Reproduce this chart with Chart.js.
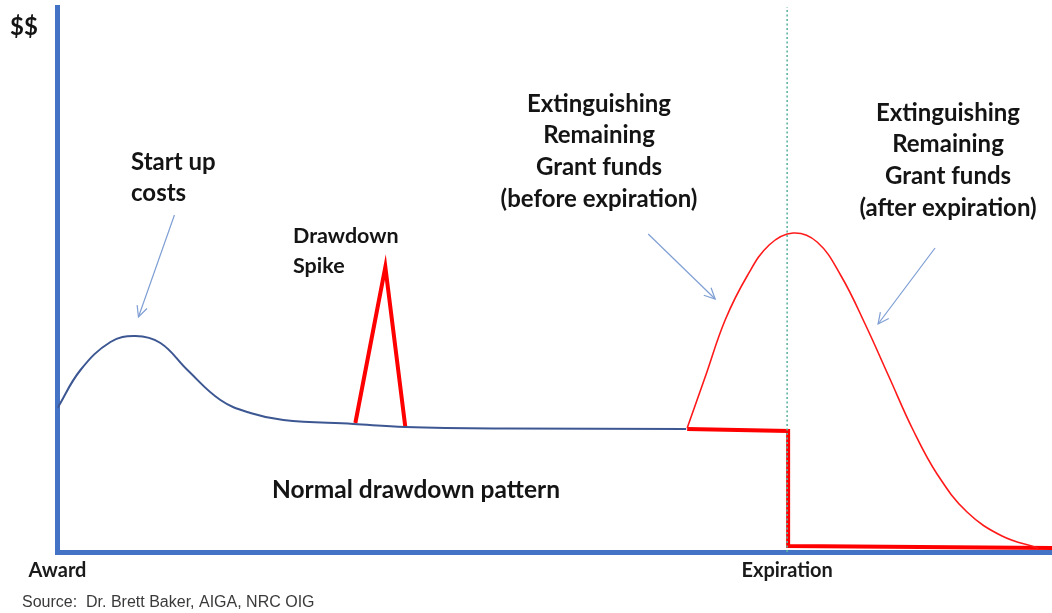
<!DOCTYPE html>
<html>
<head>
<meta charset="utf-8">
<script src="https://cdn.jsdelivr.net/npm/chart.js@4.4.1/dist/chart.umd.min.js"></script>
<style>
html,body{margin:0;padding:0;background:#fff;}
#wrap{width:1052px;height:613px;position:relative;}
</style>
</head>
<body>
<div id="wrap"><canvas id="c" width="1052" height="613"></canvas></div>
<script>
// ---- data (x: time units from award, y: $$ level) ----
const normalX = [0, 23, 53, 78, 103, 130, 163, 193, 226, 296, 348, 450, 629];
const normalY = [144, 182, 210, 216, 209, 182, 152, 139, 132, 128, 125, 123.5, 123];

const spikeX = [298, 328, 348];
const spikeY = [129, 285, 125];

const beforeX = [630, 648, 668, 690, 712, 736, 760, 784, 808, 832, 856, 880, 910, 945, 981];
const beforeY = [124, 175, 232, 276, 307, 319, 310, 276, 228, 175, 122, 78, 40, 16, 4];

const afterX = [630, 731, 731, 995];
const afterY = [123, 121, 6, 4];

const expiryX = [730, 730];
const expiryY = [0, 545];

const arrow1X = [117, 81];  const arrow1Y = [337, 235];
const arrow2X = [591, 658]; const arrow2Y = [318, 253];
const arrow3X = [878, 821]; const arrow3Y = [304, 228];

const tickValues = [0, 730];
const tickLabels = ['Award', 'Expiration'];

function pts(xs, ys){ return xs.map((x,i)=>({x:x, y:ys[i]})); }

const labelFont = '"Lato", "Open Sans", sans-serif';

const textPlugin = {
  id: 'texts',
  afterDraw(chart){
    const ctx = chart.ctx;
    ctx.save();
    ctx.fillStyle = '#141414';
    ctx.textBaseline = 'middle';
    const bold = (s)=> 'bold ' + s + 'px ' + labelFont;
    function t(str, x, y, size, align){
      ctx.font = bold(size); ctx.textAlign = align || 'center'; ctx.fillText(str, x, y);
    }
    t('$$', 10, 27, 24, 'left');
    t('Start up', 131, 162, 24, 'left');
    t('costs', 131, 193, 24, 'left');
    t('Drawdown', 293, 236, 21.5, 'left');
    t('Spike', 293, 266, 21.5, 'left');
    const b = ['Extinguishing','Remaining','Grant funds','(before expiration)'];
    const by = [104,135,167,199];
    b.forEach((s,i)=>t(s, 599, by[i], 24));
    const a = ['Extinguishing','Remaining','Grant funds','(after expiration)'];
    const ay = [113,144,176,208];
    a.forEach((s,i)=>t(s, 948, ay[i], 24));
    t('Normal drawdown pattern', 416, 490, 24.5);
    ctx.font = '16px "Liberation Sans", Arial, sans-serif';
    ctx.fillStyle = '#3a3a3a';
    ctx.textAlign = 'left';
    ctx.fillText('Source:  Dr. Brett Baker, AIGA, NRC OIG', 22, 603);
    ctx.restore();
  }
};

const arrowPlugin = {
  id: 'arrowheads',
  afterDatasetsDraw(chart){
    const ctx = chart.ctx;
    const xs = chart.scales.x, ys = chart.scales.y;
    chart.data.datasets.forEach((ds)=>{
      if(!ds.isArrow) return;
      const p0 = ds.data[0], p1 = ds.data[1];
      const x0 = xs.getPixelForValue(p0.x), y0 = ys.getPixelForValue(p0.y);
      const x1 = xs.getPixelForValue(p1.x), y1 = ys.getPixelForValue(p1.y);
      const ang = Math.atan2(y1-y0, x1-x0);
      const L = 12, spread = 0.45;
      ctx.save();
      ctx.strokeStyle = ds.borderColor;
      ctx.lineWidth = 1.2;
      ctx.beginPath();
      ctx.moveTo(x1 - L*Math.cos(ang-spread), y1 - L*Math.sin(ang-spread));
      ctx.lineTo(x1, y1);
      ctx.lineTo(x1 - L*Math.cos(ang+spread), y1 - L*Math.sin(ang+spread));
      ctx.stroke();
      ctx.restore();
    });
  }
};

const arrowColor = '#7f9fd4';

function start(){
  new Chart(document.getElementById('c'), {
    type: 'line',
    data: {
      datasets: [
        {label:'expiry', data: pts(expiryX, expiryY), borderColor:'#5fb3a0', borderWidth:1.6, borderDash:[2,2.5], pointRadius:0, tension:0},
        {label:'normal', data: pts(normalX, normalY), borderColor:'#3d5793', borderWidth:2, pointRadius:0, tension:0.4},
        {label:'before', data: pts(beforeX, beforeY), borderColor:'#ff1a1a', borderWidth:1.6, pointRadius:0, tension:0.4},
        {label:'spike', data: pts(spikeX, spikeY), borderColor:'#ff0000', borderWidth:4, pointRadius:0, tension:0, borderJoinStyle:'miter'},
        {label:'after', data: pts(afterX, afterY), borderColor:'#ff0000', borderWidth:4, pointRadius:0, tension:0, borderJoinStyle:'miter'},
        {label:'a1', isArrow:true, data: pts(arrow1X, arrow1Y), borderColor:arrowColor, borderWidth:1.2, pointRadius:0, tension:0},
        {label:'a2', isArrow:true, data: pts(arrow2X, arrow2Y), borderColor:arrowColor, borderWidth:1.2, pointRadius:0, tension:0},
        {label:'a3', isArrow:true, data: pts(arrow3X, arrow3Y), borderColor:arrowColor, borderWidth:1.2, pointRadius:0, tension:0}
      ]
    },
    options: {
      responsive: false,
      animation: false,
      events: [],
      layout: { padding: { left: 0, right: 0, top: 7, bottom: 0 } },
      plugins: { legend: {display:false}, tooltip: {enabled:false} },
      scales: {
        x: {
          type: 'linear', min: 0, max: 995,
          grid: { display:false, drawTicks:false },
          border: { display:true, color:'#4472c4', width:5 },
          afterBuildTicks(scale){ scale.ticks = tickValues.map(v=>({value:v})); },
          afterFit(scale){ scale.height = 61; },
          ticks: {
            autoSkip:false, maxRotation:0, padding:7, color:'#1a1a1a',
            font: { family: labelFont, weight:'bold', size:20 },
            callback(v){ const i = tickValues.indexOf(v); return i>=0 ? tickLabels[i] : ''; }
          }
        },
        y: {
          type: 'linear', min: 0, max: 545,
          grid: { display:false, drawTicks:false },
          border: { display:true, color:'#4472c4', width:5 },
          ticks: { display:false },
          afterFit(scale){ scale.width = 57.5; }
        }
      }
    },
    plugins: [arrowPlugin, textPlugin]
  });
}
if (document.fonts && document.fonts.load) {
  Promise.all([document.fonts.load('bold 24px Lato'), document.fonts.load('16px "Liberation Sans"')]).then(start, start);
} else start();
</script>
</body>
</html>
